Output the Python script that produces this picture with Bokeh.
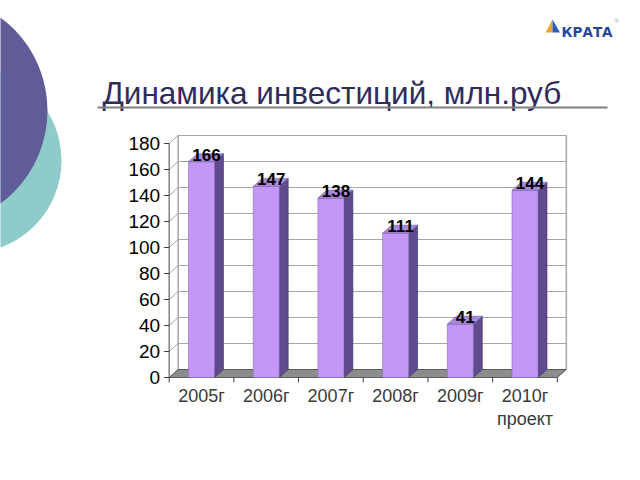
import numpy as np
from bokeh.plotting import figure
from bokeh.models import Range1d, ColumnDataSource
from bokeh.core.properties import value
from bokeh.embed import file_html
from bokeh.resources import INLINE

# ---- data ----
categories = ["2005г", "2006г", "2007г", "2008г", "2009г", "2010г"]
sublabels = ["", "", "", "", "", "проект"]
values = [166, 147, 138, 111, 41, 144]
y_ticks = [0, 20, 40, 60, 80, 100, 120, 140, 160, 180]
y_tick_labels = ["0", "20", "40", "60", "80", "100", "120", "140", "160", "180"]
title_text = "Динамика инвестиций, млн.руб"
logo_text = "КРАТА"

# ---- layout constants (pixels) ----
W, H = 640, 480
X0 = 201.0      # pixel x of first category centre
DXC = 64.7      # pixel spacing of categories
Y0 = 377.0      # pixel y of value 0
KY = 1.30       # pixels per value unit
DEP_X, DEP_Y = 9.0, 8.0   # 3D depth offset in pixels

FONT = value("Liberation Sans")

p = figure(width=W, height=H, x_range=Range1d(0, W), y_range=Range1d(H, 0),
           min_border=0, toolbar_location=None, output_backend="svg",
           x_axis_type=None, y_axis_type=None, outline_line_color=None)
p.background_fill_color = "white"
p.border_fill_color = "white"

p.extra_x_ranges = {"cat": Range1d((0 - X0) / DXC, (W - X0) / DXC)}
p.extra_y_ranges = {"val": Range1d((Y0 - H) / KY, Y0 / KY)}
R = dict(x_range_name="cat", y_range_name="val")

di = DEP_X / DXC
dv = DEP_Y / KY
n = len(categories)
xl, xr = -0.5, n - 0.5
vmax = y_ticks[-1]

# ---- decorative circles ----
p.circle(x=[-31.5], y=[160], radius=92.5, fill_color="#8FCBC9", line_color=None)
p.circle(x=[-68.5], y=[110], radius=115.5, fill_color="#5F5C98", line_color=None)

# ---- title + rule ----
p.text(x=[102], y=[92], text=[title_text], text_font=FONT, text_font_size="31.5px",
       text_color="#2F2C5C", text_baseline="alphabetic", text_align="left")
p.segment(x0=[97], y0=[107], x1=[607], y1=[107], line_color="#808080", line_width=2)

# ---- logo ----
p.patches(xs=[[545, 552, 552], [552, 559.5, 552]],
          ys=[[32, 19, 32], [32, 32, 19]],
          fill_color=["#F2A22C", "#2E5FB8"], line_color=None)
p.text(x=[561], y=[31.5], text=[logo_text], text_font=value("DejaVu Sans"),
       text_font_size="13.5px", text_font_style="bold", text_color="#24479A",
       text_baseline="alphabetic")
p.text(x=[614], y=[20], text=["®"], text_font=FONT, text_font_size="6px",
       text_color="#999999", text_baseline="alphabetic")

# ---- walls and grid ----
grid_col = "#A6A6A6"
p.segment(x0=[xl + di] * len(y_ticks), y0=[t + dv for t in y_ticks],
          x1=[xr + di] * len(y_ticks), y1=[t + dv for t in y_ticks],
          line_color=grid_col, line_width=1, **R)
p.segment(x0=[xl] * len(y_ticks), y0=y_ticks,
          x1=[xl + di] * len(y_ticks), y1=[t + dv for t in y_ticks],
          line_color=grid_col, line_width=1, **R)
p.segment(x0=[xl + di, xr + di], y0=[dv, dv], x1=[xl + di, xr + di], y1=[vmax + dv, vmax + dv],
          line_color=grid_col, line_width=1.5, **R)

# floor
p.patch(x=[xl, xr, xr + di, xl + di], y=[0, 0, dv, dv],
        fill_color="#8C8C8C", line_color="#5A5A5A", line_width=1, **R)

# front value axis
p.segment(x0=[xl], y0=[0], x1=[xl], y1=[vmax], line_color="#404040", line_width=1, **R)
p.segment(x0=[xl] * len(y_ticks), y0=y_ticks, x1=[xl - 5 / DXC] * len(y_ticks), y1=y_ticks,
          line_color="#404040", line_width=1, **R)
# category ticks
bounds = [i - 0.5 for i in range(n + 1)]
p.segment(x0=bounds, y0=[0] * len(bounds), x1=bounds, y1=[-5 / KY] * len(bounds),
          line_color="#404040", line_width=1, **R)

# ---- bars ----
bw = 26 / DXC
idx = np.arange(n)
src = ColumnDataSource(dict(left=idx - bw / 2, right=idx + bw / 2,
                            top=values, bottom=[0] * n))
side_xs, side_ys, top_xs, top_ys = [], [], [], []
for i, v in enumerate(values):
    r = i + bw / 2
    l = i - bw / 2
    side_xs.append([r, r + di, r + di, r])
    side_ys.append([0, dv, v + dv, v])
    top_xs.append([l, r, r + di, l + di])
    top_ys.append([v, v, v + dv, v + dv])
p.patches(xs=side_xs, ys=side_ys, fill_color="#5E4A8C", line_color="#3F3266", line_width=0.6, **R)
p.quad(left="left", right="right", top="top", bottom="bottom", source=src,
       fill_color="#C496F8", line_color="#8A6BB5", line_width=0.6, **R)
p.patches(xs=top_xs, ys=top_ys, fill_color="#A98AD9", line_color="#6E5A9E", line_width=0.6, **R)

# ---- texts ----
p.text(x=idx, y=values, text=[str(v) for v in values], text_font=FONT,
       text_font_size="17px", text_font_style="bold", text_color="black",
       text_align="center", text_baseline="middle", x_offset=5, y_offset=-7, **R)
p.text(x=[xl] * len(y_ticks), y=y_ticks, text=y_tick_labels, text_font=FONT,
       text_font_size="19px", text_color="black", text_align="right",
       text_baseline="middle", x_offset=-9, **R)
p.text(x=idx, y=[0] * n, text=categories, text_font=FONT, text_font_size="18px",
       text_color="#3A3A3A", text_align="center", text_baseline="middle",
       y_offset=18, **R)
p.text(x=idx, y=[0] * n, text=sublabels, text_font=FONT, text_font_size="18px",
       text_color="#3A3A3A", text_align="center", text_baseline="middle",
       y_offset=41, **R)

open("out.html", "w").write(file_html(p, INLINE))
